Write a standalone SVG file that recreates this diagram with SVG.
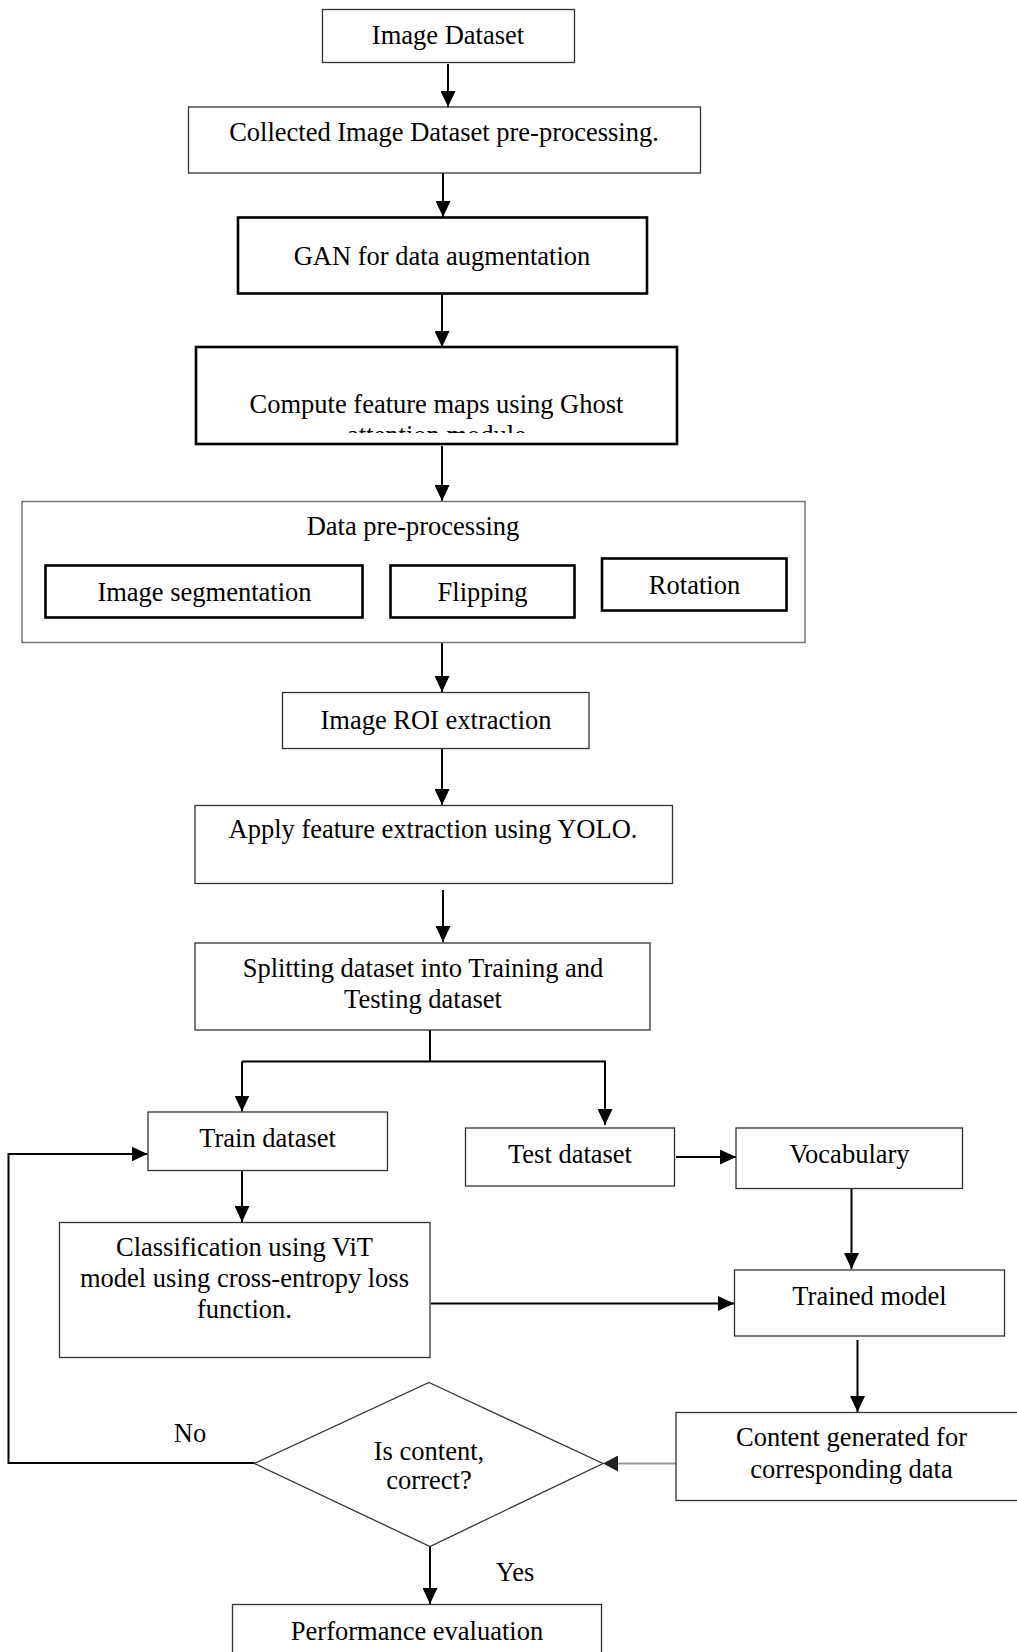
<svg xmlns="http://www.w3.org/2000/svg" width="1017" height="1652" viewBox="0 0 1017 1652">
<defs>
<style>
text{font-family:"Liberation Serif","Times New Roman",serif;font-size:26.5px;fill:#000;text-anchor:middle}
.thin{fill:#fff;stroke:#333;stroke-width:1.3}
.thick{fill:#fff;stroke:#000;stroke-width:2.6}
.cont{fill:#fff;stroke:#777;stroke-width:1.5}
.ln{fill:none;stroke:#000;stroke-width:2}
.gl{fill:none;stroke:#999;stroke-width:2}
</style>
<marker id="ah" markerUnits="userSpaceOnUse" markerWidth="17" markerHeight="15" refX="16" refY="7.5" orient="auto">
<path d="M0,0 L16,7.5 L0,15 Z" fill="#000"/>
</marker>
<marker id="ah2" markerUnits="userSpaceOnUse" markerWidth="16" markerHeight="16" refX="15" refY="8" orient="auto">
<path d="M0,0 L15,8 L0,16 Z" fill="#222"/>
</marker>
<clipPath id="cclip"><rect x="197" y="348" width="479" height="85"/></clipPath>
</defs>
<g id="connectors">
<line class="ln" x1="448" y1="64" x2="448" y2="107" marker-end="url(#ah)"/>
<line class="ln" x1="443" y1="173" x2="443" y2="217" marker-end="url(#ah)"/>
<line class="ln" x1="442" y1="294" x2="442" y2="347" marker-end="url(#ah)"/>
<line class="ln" x1="442" y1="446" x2="442" y2="501" marker-end="url(#ah)"/>
<line class="ln" x1="442" y1="643" x2="442" y2="692" marker-end="url(#ah)"/>
<line class="ln" x1="442" y1="749" x2="442" y2="805" marker-end="url(#ah)"/>
<line class="ln" x1="443" y1="890" x2="443" y2="942" marker-end="url(#ah)"/>
<polyline class="ln" points="430,1030 430,1061.5"/>
<polyline class="ln" points="242,1061.5 605,1061.5 605,1125" marker-end="url(#ah)"/>
<line class="ln" x1="242" y1="1061.5" x2="242" y2="1111.5" marker-end="url(#ah)"/>
<line class="ln" x1="242" y1="1171" x2="242" y2="1222" marker-end="url(#ah)"/>
<line class="ln" x1="676" y1="1157" x2="736" y2="1157" marker-end="url(#ah)"/>
<line class="ln" x1="851.5" y1="1189" x2="851.5" y2="1269" marker-end="url(#ah)"/>
<line class="ln" x1="431" y1="1303.5" x2="734" y2="1303.5" marker-end="url(#ah)"/>
<line class="ln" x1="857.5" y1="1340" x2="857.5" y2="1412" marker-end="url(#ah)"/>
<line class="gl" x1="676" y1="1463.5" x2="618" y2="1463.5"/>
<line x1="619" y1="1463.5" x2="603" y2="1463.5" marker-end="url(#ah2)" style="stroke:none"/>
<polyline class="ln" points="254.5,1463 8.5,1463 8.5,1154 147.5,1154" marker-end="url(#ah)"/>
<line class="ln" x1="430" y1="1546" x2="430" y2="1604" marker-end="url(#ah)"/>
<text x="190" y="1442">No</text>
<text x="515" y="1581">Yes</text>
</g>
<g id="n-image-dataset">
<rect class="thin" x="322.5" y="9.5" width="252" height="53"/>
<text x="448" y="44">Image Dataset</text>
</g>
<g id="n-collected">
<rect class="thin" x="188.5" y="107" width="512" height="66"/>
<text x="444" y="141">Collected Image Dataset pre-processing.</text>
</g>
<g id="n-gan">
<rect class="thick" x="238" y="217.5" width="409" height="76"/>
<text x="442" y="265">GAN for data augmentation</text>
</g>
<g id="n-compute">
<rect class="thick" x="196" y="347" width="481" height="97"/>
<g clip-path="url(#cclip)">
<text x="436.5" y="413">Compute feature maps using Ghost</text>
<text x="436.5" y="444">attention module</text>
</g>
</g>
<g id="n-data-preprocessing">
<rect class="cont" x="22" y="501.5" width="783" height="141"/>
<text x="413" y="535">Data pre-processing</text>
</g>
<g id="n-image-segmentation">
<rect class="thick" x="45.5" y="565.5" width="317" height="52"/>
<text x="204.5" y="601">Image segmentation</text>
</g>
<g id="n-flipping">
<rect class="thick" x="390.5" y="565.5" width="184" height="52"/>
<text x="482.5" y="601">Flipping</text>
</g>
<g id="n-rotation">
<rect class="thick" x="602" y="558.5" width="184.5" height="52"/>
<text x="694.5" y="594">Rotation</text>
</g>
<g id="n-roi">
<rect class="thin" x="282.5" y="692.5" width="306.5" height="56"/>
<text x="436" y="729">Image ROI extraction</text>
</g>
<g id="n-yolo">
<rect class="thin" x="195" y="805.5" width="477.5" height="78"/>
<text x="433" y="838">Apply feature extraction using YOLO.</text>
</g>
<g id="n-splitting">
<rect class="thin" x="195" y="943" width="455" height="87"/>
<text x="423" y="977">Splitting dataset into Training and</text>
<text x="423" y="1008">Testing dataset</text>
</g>
<g id="n-train">
<rect class="thin" x="148" y="1112" width="239.5" height="58.5"/>
<text x="267.5" y="1146.5">Train dataset</text>
</g>
<g id="n-test">
<rect class="thin" x="465.5" y="1128" width="209" height="58"/>
<text x="570" y="1162.5">Test dataset</text>
</g>
<g id="n-vocabulary">
<rect class="thin" x="736" y="1128" width="226.5" height="60.5"/>
<text x="849.5" y="1162.5">Vocabulary</text>
</g>
<g id="n-trained">
<rect class="thin" x="734.5" y="1270" width="270" height="66"/>
<text x="869.5" y="1304.5">Trained model</text>
</g>
<g id="n-classification">
<rect class="thin" x="59.5" y="1222.5" width="370.5" height="135"/>
<text x="244.5" y="1256">Classification using ViT</text>
<text x="244.5" y="1287">model using cross-entropy loss</text>
<text x="244.5" y="1317.5">function.</text>
</g>
<g id="n-content">
<rect class="thin" x="676" y="1412.5" width="360" height="88"/>
<text x="851.5" y="1446">Content generated for</text>
<text x="851.5" y="1477.5">corresponding data</text>
</g>
<g id="n-decision">
<polygon fill="#fff" stroke="#333" stroke-width="1.3" points="429,1382.5 603,1463.5 430,1546.5 254.5,1463.5"/>
<text x="429" y="1459.5">Is content,</text>
<text x="429" y="1489">correct?</text>
</g>
<g id="n-performance">
<rect class="thin" x="232.5" y="1604.5" width="369" height="60"/>
<text x="417" y="1640">Performance evaluation</text>
</g>
</svg>
